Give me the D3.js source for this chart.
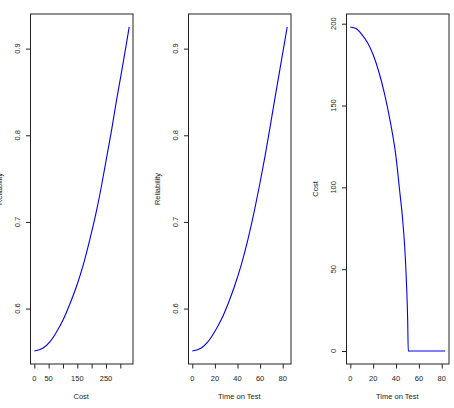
<!DOCTYPE html>
<html>
<head>
<meta charset="utf-8">
<script src="https://cdn.jsdelivr.net/npm/d3@7"></script>
<style>
  html, body { margin: 0; padding: 0; background: #fff; }
  svg { display: block; font-family: "Liberation Sans", Arial, Helvetica, sans-serif; }
</style>
</head>
<body>
<svg id="chart" width="454" height="408"></svg>
<script>
// ---- data ----
const costP1 = [0, 31, 55, 78, 101, 124, 148, 171, 194, 218, 235, 252, 270, 287, 305, 321, 331];
const relP1  = [0.551, 0.5545, 0.5618, 0.5733, 0.5873, 0.6053, 0.6263, 0.6507, 0.6802, 0.7144, 0.7429, 0.7739, 0.8069, 0.8409, 0.8744, 0.9052, 0.925];

const timeP2 = [0, 8, 13.9, 19.8, 25.7, 31.6, 37.5, 43.4, 49.3, 55.2, 59.6, 64.1, 68.5, 72.9, 77.3, 81.4, 84];
const relP2  = [0.551, 0.5545, 0.5618, 0.5733, 0.5873, 0.6053, 0.6263, 0.6507, 0.6802, 0.7144, 0.7429, 0.7739, 0.8069, 0.8409, 0.8744, 0.9052, 0.925];

const timeP3 = [0, 5, 10, 15, 20, 25, 30, 35, 40, 43, 46, 48, 49.3, 50.2, 50.7, 60, 70, 83];
const costP3 = [198, 197, 193.5, 188.5, 181, 170.5, 157, 140, 118.5, 99, 78.5, 58.5, 38.5, 18.5, 0, 0, 0, 0];

const xTicks1 = [0, 50, 100, 150, 200, 250, 300];
const xTickLabels1 = ["0", "50", "", "150", "", "250", ""];
const yTicksRel = [0.6, 0.7, 0.8, 0.9];
const yTickLabelsRel = ["0.6", "0.7", "0.8", "0.9"];
const xTicksTime = [0, 20, 40, 60, 80];
const xTickLabelsTime = ["0", "20", "40", "60", "80"];
const yTicksCost = [0, 50, 100, 150, 200];
const yTickLabelsCost = ["0", "50", "100", "150", "200"];

const xTitles = ["Cost", "Time on Test", "Time on Test"];
const yTitles = ["Reliability", "Reliability", "Cost"];

(function () {
  const svg = d3.select("#chart");
  const plotTop = 14, plotBottom = 364, pw = 102.5;
  const lefts = [30.5, 188.5, 346.5];
  const fs = 7.5;
  const lineColor = "#0000ee";

  function rExpand(ext) { const d = (ext[1] - ext[0]) * 0.04; return [ext[0] - d, ext[1] + d]; }

  const panels = [
    { xs: costP1, ys: relP1, xT: xTicks1, xL: xTickLabels1, yT: yTicksRel, yL: yTickLabelsRel },
    { xs: timeP2, ys: relP2, xT: xTicksTime, xL: xTickLabelsTime, yT: yTicksRel, yL: yTickLabelsRel },
    { xs: timeP3, ys: costP3, xT: xTicksTime, xL: xTickLabelsTime, yT: yTicksCost, yL: yTickLabelsCost }
  ];

  panels.forEach((p, i) => {
    const L = lefts[i], R = L + pw;
    const x = d3.scaleLinear().domain(rExpand(d3.extent(p.xs))).range([L, R]);
    const y = d3.scaleLinear().domain(rExpand(d3.extent(p.ys))).range([plotBottom, plotTop]);
    const g = svg.append("g");

    const pts = p.xs.map((v, k) => [v, p.ys[k]]);
    g.append("path")
      .datum(pts)
      .attr("fill", "none")
      .attr("stroke", lineColor)
      .attr("stroke-width", 1.1)
      .attr("d", d3.line().x(d => x(d[0])).y(d => y(d[1])).curve(d3.curveMonotoneX));

    const xa = g.append("g").attr("transform", `translate(0,${plotBottom})`)
      .call(d3.axisBottom(x).tickValues(p.xT).tickSize(4.5).tickFormat(""));
    xa.select(".domain").remove();
    xa.selectAll("line").attr("stroke", "#222");
    g.selectAll(".xl").data(p.xT).enter().append("text")
      .attr("x", d => x(d)).attr("y", 381)
      .attr("text-anchor", "middle").attr("font-size", fs).attr("fill", "#222")
      .text((d, k) => p.xL[k]);

    const ya = g.append("g").attr("transform", `translate(${L},0)`)
      .call(d3.axisLeft(y).tickValues(p.yT).tickSize(4.5).tickFormat(""));
    ya.select(".domain").remove();
    ya.selectAll("line").attr("stroke", "#222");
    g.selectAll(".yl").data(p.yT).enter().append("text")
      .attr("transform", d => `translate(${L - 13},${y(d)}) rotate(-90)`)
      .attr("dy", "0.35em")
      .attr("text-anchor", "middle").attr("font-size", fs).attr("fill", "#222")
      .text((d, k) => p.yL[k]);

    g.append("rect")
      .attr("x", L).attr("y", plotTop).attr("width", pw).attr("height", plotBottom - plotTop)
      .attr("fill", "none").attr("stroke", "#222").attr("stroke-width", 1);

    g.append("text")
      .attr("x", (L + R) / 2 - 0.5).attr("y", 399)
      .attr("text-anchor", "middle").attr("font-size", fs).attr("fill", "#222")
      .text(xTitles[i]);
    g.append("text")
      .attr("transform", `translate(${L - 31},${(plotTop + plotBottom) / 2}) rotate(-90)`)
      .attr("dy", "0.35em")
      .attr("text-anchor", "middle").attr("font-size", fs).attr("fill", "#222")
      .text(yTitles[i]);
  });
})();
</script>
</body>
</html>
